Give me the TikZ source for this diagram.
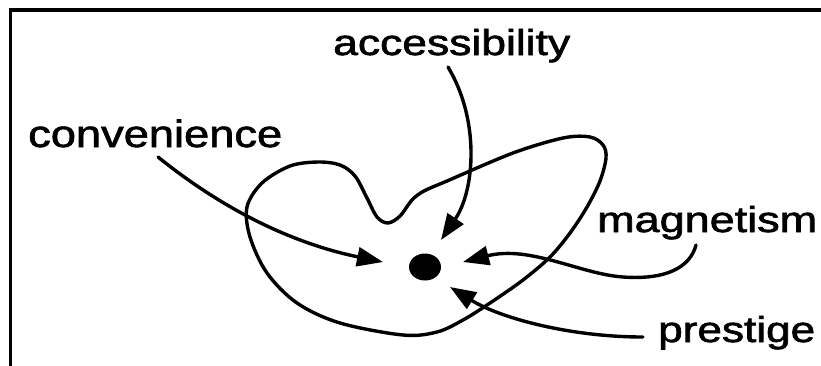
\documentclass[tikz,border=0pt]{standalone}
\usepackage{fontspec}
\setmainfont{Liberation Sans}
\newfontfamily\lblfont{Liberation Sans}[RawFeature={embolden=1.6}]
\usepackage{graphicx}
\usetikzlibrary{arrows.meta,shapes.geometric}
\tikzset{
  lbl/.style={anchor=base west, inner sep=0pt, font=\lblfont\fontsize{36}{40}\selectfont},
  curve/.style={line width=3.4pt, line cap=round, line join=round},
  arr/.style={curve, -{Triangle[length=26pt,width=19pt]}},
  frameline/.style={line width=3.8pt, line join=miter}
}
\newcommand{\wtext}[2]{\resizebox{#1}{\height}{#2}}
\begin{document}
\begin{tikzpicture}[x=1pt,y=-1pt]
\useasboundingbox (0,0) rectangle (821,365);
% frame
\draw[frameline] (10.5,370) -- (10.5,10) -- (830,10);
% labels
\node[lbl] (acc) at (333,55) {\wtext{237pt}{accessibility}};
\node[lbl, font=\lblfont\fontsize{38}{42}\selectfont] (conv) at (28,147) {\wtext{254pt}{convenience}};
\node[lbl] (mag) at (597,232) {\wtext{220pt}{magnetism}};
\node[lbl] (pres) at (658,342) {\wtext{157pt}{prestige}};
% central dot
\node[ellipse, fill=black, minimum width=32pt, minimum height=27pt, inner sep=0pt] (dot) at (425,267) {};
% blob
\draw[curve] plot[smooth cycle, tension=0.55] coordinates {
 (318,162) (340,165) (355,176) (367,198) (377,217) (388,223) (400,216) (412,200)
 (424,191) (447,181) (513,153) (563,138) (590,137) (603,145) (606,158) (600,181)
 (587,207) (570,233) (550,257) (523,280) (490,303) (463,320) (437,332) (403,335)
 (340,323) (297,303) (267,273) (250,237) (247,207) (262,183) (290,166)};
% arrow anchors
\coordinate (accS) at (448,67);
\coordinate (accT) at (441,240);
\coordinate (convS) at (158,157);
\coordinate (convT) at (383,262);
\coordinate (magS) at (696,245);
\coordinate (magM) at (623,277);
\coordinate (magT) at (463,262);
\coordinate (presS) at (643,337);
\coordinate (presT) at (450,287);
% arrows
\draw[arr] (accS) .. controls (480,120) and (475,190) .. (accT);
\draw[arr] (convS) .. controls (230,215) and (300,245) .. (convT);
\draw[arr] (magS) .. controls (690,268) and (665,280) .. (magM)
                  .. controls (580,274) and (530,245) .. (magT);
\draw[arr] (presS) .. controls (570,337) and (500,318) .. (presT);
\end{tikzpicture}
\end{document}
